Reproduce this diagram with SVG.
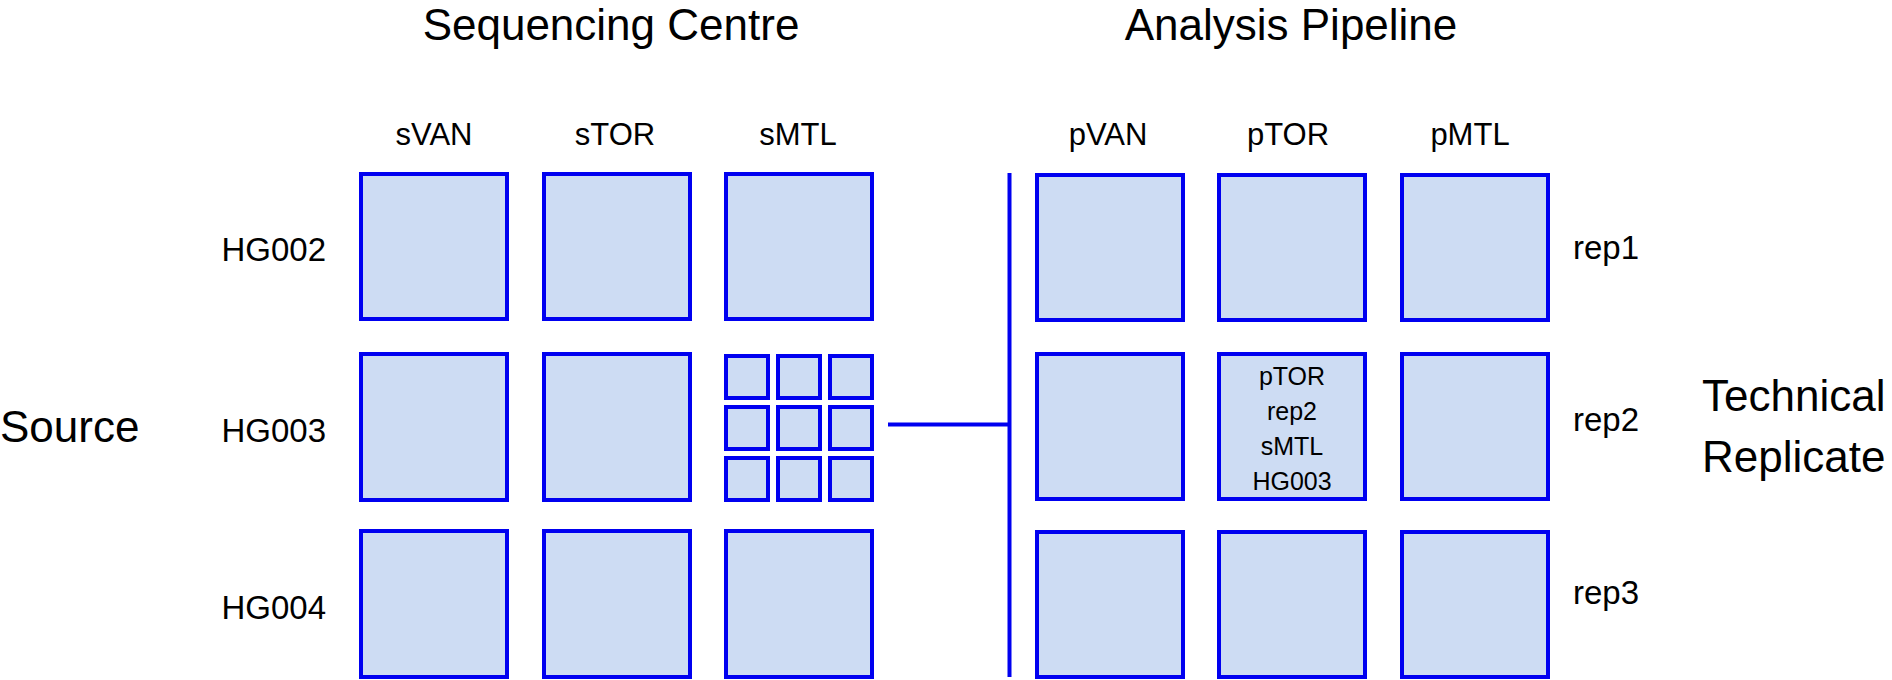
<svg xmlns="http://www.w3.org/2000/svg" width="1892" height="680" viewBox="0 0 1892 680">
<style>
text{font-family:"Liberation Sans",Arial,sans-serif;fill:#000}
.title{font-size:44px;text-anchor:middle}
.col{font-size:31px;text-anchor:middle}
.row{font-size:33px}
.big{font-size:44px}
.box{fill:#cddcf3;stroke:#0000f0;stroke-width:4}
.inner{font-size:25px;text-anchor:middle}
.conn{stroke:#0000f0;stroke-width:4;fill:none}
</style>
<rect width="1892" height="680" fill="#fff"/>
<g id="titles">
<text class="title" x="611" y="40">Sequencing Centre</text>
<text class="title" x="1291" y="40">Analysis Pipeline</text>
</g>
<g id="col-labels">
<text class="col" x="434" y="145">sVAN</text>
<text class="col" x="615" y="145">sTOR</text>
<text class="col" x="798" y="145">sMTL</text>
<text class="col" x="1108" y="145">pVAN</text>
<text class="col" x="1288" y="145">pTOR</text>
<text class="col" x="1470" y="145">pMTL</text>
</g>
<g id="row-labels">
<text class="big" x="0" y="442">Source</text>
<text class="row" x="326" y="261" text-anchor="end">HG002</text>
<text class="row" x="326" y="442" text-anchor="end">HG003</text>
<text class="row" x="326" y="619" text-anchor="end">HG004</text>
<text class="row" x="1573" y="259">rep1</text>
<text class="row" x="1573" y="431">rep2</text>
<text class="row" x="1573" y="604">rep3</text>
<text class="big" x="1702" y="411">Technical</text>
<text class="big" x="1702" y="472">Replicate</text>
</g>
<g id="connectors">
<line class="conn" x1="888" y1="424.5" x2="1010" y2="424.5"/>
<line class="conn" x1="1009.5" y1="173" x2="1009.5" y2="677"/>
</g>
<g id="sVAN-HG002"><rect class="box" x="361" y="174" width="146" height="145"/></g>
<g id="sTOR-HG002"><rect class="box" x="544" y="174" width="146" height="145"/></g>
<g id="sMTL-HG002"><rect class="box" x="726" y="174" width="146" height="145"/></g>
<g id="sVAN-HG003"><rect class="box" x="361" y="354" width="146" height="146"/></g>
<g id="sTOR-HG003"><rect class="box" x="544" y="354" width="146" height="146"/></g>
<g id="sMTL-HG003">
<rect class="box" x="726" y="356" width="42" height="42"/>
<rect class="box" x="778" y="356" width="42" height="42"/>
<rect class="box" x="830" y="356" width="42" height="42"/>
<rect class="box" x="726" y="407" width="42" height="42"/>
<rect class="box" x="778" y="407" width="42" height="42"/>
<rect class="box" x="830" y="407" width="42" height="42"/>
<rect class="box" x="726" y="458" width="42" height="42"/>
<rect class="box" x="778" y="458" width="42" height="42"/>
<rect class="box" x="830" y="458" width="42" height="42"/>
</g>
<g id="sVAN-HG004"><rect class="box" x="361" y="531" width="146" height="146"/></g>
<g id="sTOR-HG004"><rect class="box" x="544" y="531" width="146" height="146"/></g>
<g id="sMTL-HG004"><rect class="box" x="726" y="531" width="146" height="146"/></g>
<g id="pVAN-rep1"><rect class="box" x="1037" y="175" width="146" height="145"/></g>
<g id="pTOR-rep1"><rect class="box" x="1219" y="175" width="146" height="145"/></g>
<g id="pMTL-rep1"><rect class="box" x="1402" y="175" width="146" height="145"/></g>
<g id="pVAN-rep2"><rect class="box" x="1037" y="354" width="146" height="145"/></g>
<g id="pTOR-rep2"><rect class="box" x="1219" y="354" width="146" height="145"/>
<text class="inner" x="1292" y="384.5">pTOR</text>
<text class="inner" x="1292" y="420">rep2</text>
<text class="inner" x="1292" y="455">sMTL</text>
<text class="inner" x="1292" y="490">HG003</text>
</g>
<g id="pMTL-rep2"><rect class="box" x="1402" y="354" width="146" height="145"/></g>
<g id="pVAN-rep3"><rect class="box" x="1037" y="532" width="146" height="145"/></g>
<g id="pTOR-rep3"><rect class="box" x="1219" y="532" width="146" height="145"/></g>
<g id="pMTL-rep3"><rect class="box" x="1402" y="532" width="146" height="145"/></g>
</svg>
